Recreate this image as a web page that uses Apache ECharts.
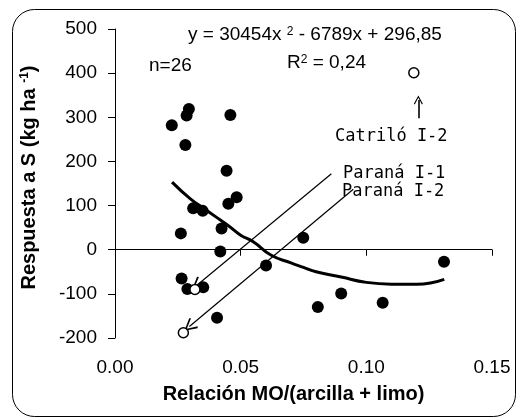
<!DOCTYPE html>
<html>
<head>
<meta charset="utf-8">
<script src="https://cdn.jsdelivr.net/npm/echarts@6/dist/echarts.min.js"></script>
<style>
html, body { margin: 0; padding: 0; background: #fff; }
#chart { width: 518px; height: 419px; }
</style>
</head>
<body>
<div id="chart"></div>
<script>
//*************** datos ***************
var filled_x = [0.0226, 0.0285, 0.0294, 0.0459, 0.0280, 0.0444, 0.0484, 0.0451, 0.0311, 0.0349, 0.0262, 0.0424,
    0.0419, 0.0265, 0.0288, 0.0351, 0.0406, 0.0749, 0.0601, 0.1309, 0.1065, 0.0807, 0.0900];
var filled_y = [282, 304, 319, 305, 237, 179, 119, 104, 94, 88, 37, 48,
    -4, -65, -89, -85, -154, 27, -36, -27, -120, -130, -99];

// puntos destacados (círculos abiertos)
var open_x = [0.0318, 0.0272, 0.1189];
var open_y = [-90, -188, 401];

// curva de tendencia
var trend_x = [0.0227, 0.030, 0.035, 0.040, 0.045, 0.050, 0.055, 0.062, 0.070, 0.075, 0.080, 0.090, 0.100, 0.110, 0.120, 0.131];
var trend_y = [153, 115, 95, 75, 55, 33, 18, -12, -30, -40, -50, -62, -74, -78, -78, -67];

// flechas: [x inicio, y inicio, x fin, y fin]
var arrow_parana1 = [0.0861, 172, 0.0327, -80];
var arrow_parana2 = [0.0948, 137, 0.0296, -174];
var arrow_catrilo = [0.1207, 298, 0.1207, 339];

var x_ticks = [0, 0.05, 0.10, 0.15];

//*************** inicializar ***************
var chart_dom = document.getElementById("chart");
var chart = echarts.init(chart_dom);

function zip(xs, ys) {
    var out = [];
    for (var i = 0; i < xs.length; i++) out.push([xs[i], ys[i]]);
    return out;
}

function arrow_coords(a) {
    return { coords: [[a[0], a[1]], [a[2], a[3]]] };
}

var chevron = 'path://M5,0L10,9L9,10L5,2.4L1,10L0,9Z';
var font = '"Liberation Sans", Arial, sans-serif';
var mono = '"DejaVu Sans Mono", monospace';

var options = {
    animation: false,
    backgroundColor: '#fff',
    grid: { left: 115, right: 26, top: 29, bottom: 81 },
    xAxis: {
        type: 'value',
        min: x_ticks[0],
        max: x_ticks[x_ticks.length - 1],
        interval: 0.05,
        name: 'Relación MO/(arcilla + limo)',
        nameLocation: 'middle',
        nameGap: 46,
        nameTextStyle: { fontFamily: font, fontSize: 20, fontWeight: 'bold', color: '#000', padding: [0, 20, 0, 0] },
        axisLine: { lineStyle: { color: '#000', width: 1 } },
        axisTick: { length: 6, lineStyle: { color: '#000' } },
        axisLabel: {
            fontFamily: font, fontSize: 19, color: '#000', margin: 20,
            formatter: function (v) { return v.toFixed(2); }
        },
        splitLine: { show: false }
    },
    yAxis: {
        type: 'value',
        min: -200,
        max: 500,
        interval: 100,
        name: 'Respuesta a S (kg ha {sup|-1})',
        nameLocation: 'middle',
        nameRotate: 90,
        nameGap: 76,
        nameTextStyle: {
            fontFamily: font, fontSize: 20, fontWeight: 'bold', color: '#000', padding: [0, 0, 0, 12],
            rich: { sup: { fontFamily: font, fontSize: 12, fontWeight: 'bold', verticalAlign: 'top', color: '#000' } }
        },
        axisLine: { show: true, lineStyle: { color: '#000', width: 1 } },
        axisTick: { show: true, length: 7, lineStyle: { color: '#000' } },
        axisLabel: { fontFamily: font, fontSize: 19, color: '#000', margin: 18 },
        splitLine: { show: false }
    },
    series: [
        {
            type: 'line',
            data: zip(trend_x, trend_y),
            smooth: true,
            showSymbol: false,
            lineStyle: { color: '#000', width: 3 },
            z: 2
        },
        {
            type: 'lines',
            coordinateSystem: 'cartesian2d',
            symbol: ['none', chevron],
            symbolSize: [11, 13],
            lineStyle: { color: '#000', width: 1.2, opacity: 1 },
            data: [arrow_coords(arrow_parana1), arrow_coords(arrow_parana2)],
            z: 3
        },
        {
            type: 'lines',
            coordinateSystem: 'cartesian2d',
            symbol: ['none', chevron],
            symbolSize: [9, 9],
            lineStyle: { color: '#000', width: 1.6, opacity: 1 },
            data: [arrow_coords(arrow_catrilo)],
            z: 3
        },
        {
            type: 'scatter',
            data: zip(filled_x, filled_y),
            symbolSize: 12,
            itemStyle: { color: '#000', opacity: 1 },
            z: 4
        },
        {
            type: 'scatter',
            data: zip(open_x, open_y),
            symbolSize: 10,
            itemStyle: { color: '#fff', borderColor: '#000', borderWidth: 1.5, opacity: 1 },
            z: 5
        }
    ],
    graphic: [
        {
            type: 'rect',
            shape: { x: 12.5, y: 9.5, width: 503, height: 407, r: 22 },
            style: { fill: 'none', stroke: '#000', lineWidth: 1 },
            silent: true
        },
        {
            type: 'text', x: 188, y: 35,
            style: {
                text: 'y = 30454x {sup|2} - 6789x + 296,85',
                font: '19px ' + font, fill: '#000', verticalAlign: 'middle',
                rich: { sup: { fontFamily: font, fontSize: 12, verticalAlign: 'top', fill: '#000' } }
            }
        },
        {
            type: 'text', x: 287, y: 63,
            style: {
                text: 'R{sup|2} = 0,24',
                font: '19px ' + font, fill: '#000', verticalAlign: 'middle',
                rich: { sup: { fontFamily: font, fontSize: 12, verticalAlign: 'top', fill: '#000' } }
            }
        },
        {
            type: 'text', x: 149, y: 66,
            style: { text: 'n=26', font: '19px ' + font, fill: '#000', verticalAlign: 'middle' }
        },
        {
            type: 'text', x: 335, y: 137,
            style: { text: 'Catriló I-2', font: '17px ' + mono, fill: '#000', verticalAlign: 'middle' }
        },
        {
            type: 'text', x: 343, y: 174,
            style: { text: 'Paraná I-1', font: '17px ' + mono, fill: '#000', verticalAlign: 'middle' }
        },
        {
            type: 'text', x: 342, y: 192,
            style: { text: 'Paraná I-2', font: '17px ' + mono, fill: '#000', verticalAlign: 'middle' }
        }
    ]
};

chart.setOption(options);
window.addEventListener('resize', function () { chart.resize(); });
</script>
</body>
</html>
